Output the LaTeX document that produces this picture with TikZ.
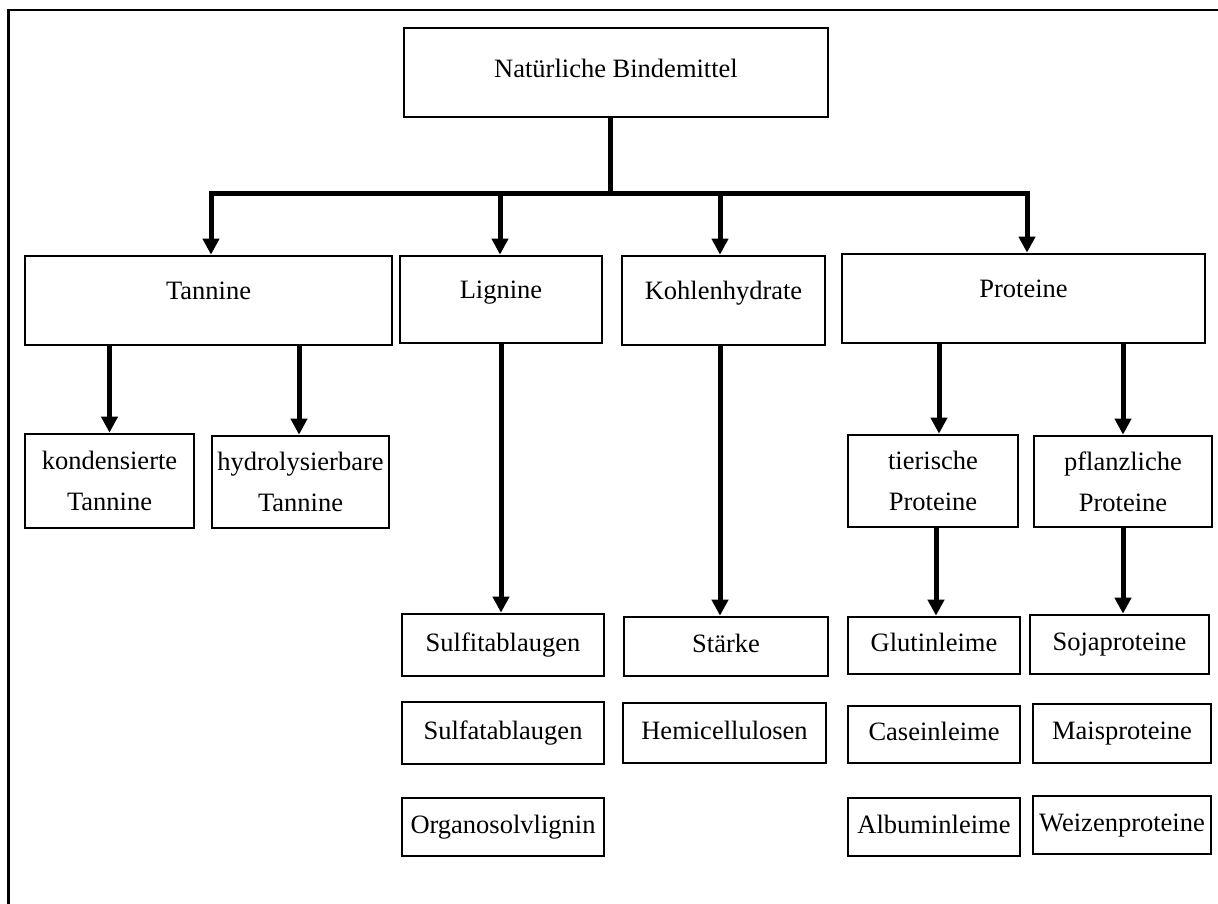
\documentclass[tikz,border=0pt]{standalone}
\usepackage{fontspec}
\setmainfont{Liberation Serif}
\usetikzlibrary{arrows.meta}
\begin{document}
\begin{tikzpicture}[x=1pt,y=-1pt,
  box/.style={draw, line width=2.7pt, inner sep=0pt, align=center,
    font=\fontsize{26.5}{41}\selectfont},
  topbox/.style={box, text height=18pt, text depth=20.8pt},
  onebox/.style={box, text height=18pt, text depth=6pt},
  twobox/.style={box},
  conn/.style={line width=5pt},
  arr/.style={line width=5pt, -{Triangle[width=16pt,length=16pt]}},
  frame/.style={line width=2.2pt}
]
\useasboundingbox (0,0) rectangle (1218,903);
% outer frame
\draw[frame] (1230,10) -- (8.5,10) -- (8.5,915);

% root
\node[box, text height=18pt, text depth=8pt, minimum width=424pt, minimum height=89pt] (root) at (616,72.5) {Natürliche Bindemittel};

% level 1
\node[topbox, minimum width=367pt, minimum height=89pt] (tan) at (208.5,300.5) {Tannine};
\node[topbox, minimum width=202pt, minimum height=87pt] (lig) at (501,299.5) {Lignine};
\node[topbox, minimum width=203pt, minimum height=89pt] (kohl) at (723.5,300.5) {Kohlenhydrate};
\node[topbox, minimum width=363pt, minimum height=89pt] (prot) at (1023.5,298.5) {Proteine};

% level 2 (two-line)
\node[twobox, minimum width=169pt, minimum height=94pt] (kond) at (109.5,481) {kondensierte\\Tannine};
\node[twobox, minimum width=177pt, minimum height=92pt] (hydro) at (300.5,482) {hydrolysierbare\\Tannine};
\node[twobox, minimum width=170pt, minimum height=92pt] (tier) at (933,481) {tierische\\Proteine};
\node[twobox, minimum width=178pt, minimum height=91pt] (pfl) at (1123,481.5) {pflanzliche\\Proteine};

% leaves
\node[onebox, minimum width=202pt, minimum height=62pt] (sulfit) at (503,645) {Sulfitablaugen};
\node[onebox, minimum width=202pt, minimum height=62pt] (sulfat) at (503,733) {Sulfatablaugen};
\node[onebox, minimum width=202pt, minimum height=58pt] (organo) at (503,827) {Organosolvlignin};
\node[onebox, minimum width=204pt, minimum height=59pt] (staerke) at (726,646.5) {Stärke};
\node[onebox, minimum width=203pt, minimum height=60pt] (hemi) at (724.5,733) {Hemicellulosen};
\node[onebox, minimum width=172pt, minimum height=57pt] (glutin) at (934,645.5) {Glutinleime};
\node[onebox, minimum width=172pt, minimum height=57pt] (casein) at (934,734.5) {Caseinleime};
\node[onebox, minimum width=172pt, minimum height=58pt] (albumin) at (934,827) {Albuminleime};
\node[onebox, minimum width=179pt, minimum height=59pt] (soja) at (1119.5,644.5) {Sojaproteine};
\node[onebox, minimum width=178pt, minimum height=59pt] (mais) at (1122,733.5) {Maisproteine};
\node[onebox, minimum width=178pt, minimum height=58pt] (weizen) at (1122,825) {Weizenproteine};

% bus
\coordinate (bus) at (610,193);
\coordinate (bL) at (211,193);
\coordinate (b2) at (500,193);
\coordinate (b3) at (720,193);
\coordinate (bR) at (1027,193);
\draw[conn] (root.south -| bus) -- (bus);
\draw[conn, line cap=rect] (bL) -- (bR);
\draw[arr] (bL) -- (bL |- tan.north);
\draw[arr] (b2) -- (b2 |- lig.north);
\draw[arr] (b3) -- (b3 |- kohl.north);
\draw[arr] (bR) -- (bR |- prot.north);

% level 1 -> level 2
\draw[arr] (tan.south -| kond.north) -- (kond.north);
\draw[arr] ([xshift=-1.5pt]tan.south -| hydro.north) -- ([xshift=-1.5pt]hydro.north);
\draw[arr] ([xshift=6pt]prot.south -| tier.north) -- ([xshift=6pt]tier.north);
\draw[arr] (prot.south -| pfl.north) -- (pfl.north);

% to leaves
\draw[arr] (lig.south) -- (lig.south |- sulfit.north);
\draw[arr] ([xshift=-3.5pt]kohl.south) -- ([xshift=-3.5pt]kohl.south |- staerke.north);
\draw[arr] ([xshift=3pt]tier.south) -- ([xshift=3pt]tier.south |- glutin.north);
\draw[arr] (pfl.south) -- (pfl.south |- soja.north);
\end{tikzpicture}
\end{document}
